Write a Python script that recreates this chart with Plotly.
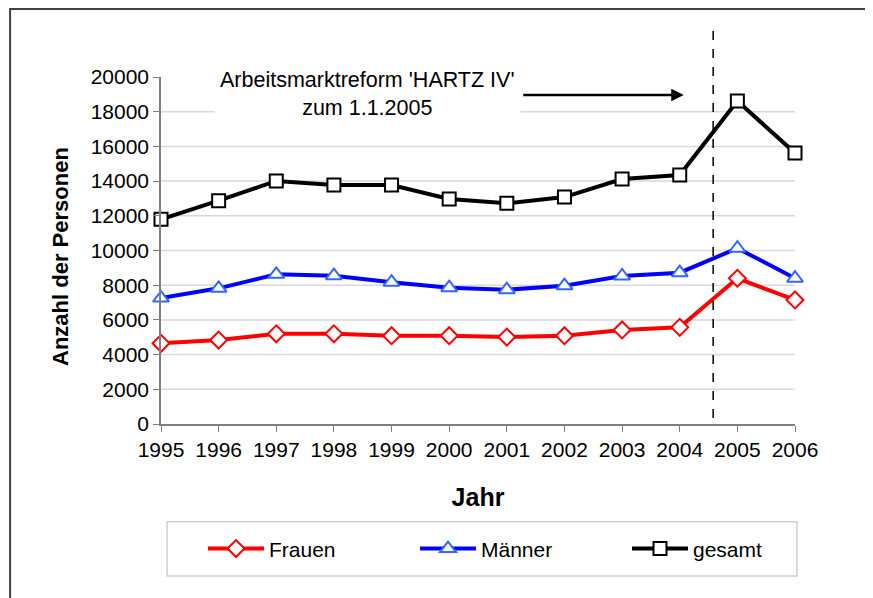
"""Arbeitslose nach Geschlecht 1995-2006 mit Markierung der HARTZ-IV-Reform."""

import plotly.graph_objects as go

YEARS = [1995, 1996, 1997, 1998, 1999, 2000, 2001, 2002, 2003, 2004, 2005, 2006]
FRAUEN = [4650, 4840, 5200, 5200, 5090, 5090, 5010, 5090, 5420, 5570, 8400, 7150]
MAENNER = [7260, 7820, 8630, 8550, 8170, 7860, 7740, 7970, 8530, 8720, 10130, 8400]
GESAMT = [11800, 12870, 14010, 13775, 13775, 12970, 12720, 13080, 14120, 14350, 18620, 15620]

Y_TICKS = [0, 2000, 4000, 6000, 8000, 10000, 12000, 14000, 16000, 18000, 20000]
GRID_LINES = Y_TICKS[1:-1]
REFORM_X = 2004.58

FONT = "Liberation Sans, Arial, sans-serif"

# the page body adds an 8px offset, so the figure is drawn 8px smaller
W, H = 865, 590

fig = go.Figure()

series = [
    ("Frauen", FRAUEN, "#FF0000", "#FF0000", "diamond"),
    ("Männer", MAENNER, "#0000FF", "#3366FF", "triangle-up"),
    ("gesamt", GESAMT, "#000000", "#000000", "square"),
]
for name, vals, line_color, marker_color, symbol in series:
    fig.add_trace(
        go.Scatter(
            x=YEARS,
            y=vals,
            name=name,
            mode="lines+markers",
            line={"color": line_color, "width": 4},
            marker={
                "symbol": symbol,
                "size": 13 if symbol != "triangle-up" else 14,
                "color": "white",
                "line": {"color": marker_color, "width": 2},
            },
            cliponaxis=False,
        )
    )

shapes = [
    # horizontal gridlines
    {
        "type": "line", "xref": "paper", "yref": "y", "x0": 0, "x1": 1,
        "y0": g, "y1": g, "line": {"color": "#d9d9d9", "width": 1.5}, "layer": "below",
    }
    for g in GRID_LINES
]
shapes += [
    # reform marker
    {
        "type": "line", "xref": "x", "yref": "paper", "x0": REFORM_X, "x1": REFORM_X,
        "y0": 0.017, "y1": 1.158, "line": {"color": "black", "width": 1.5, "dash": "dash"},
    },
    # legend frame
    {
        "type": "rect", "xref": "paper", "yref": "paper", "x0": 0.0095, "x1": 1.003,
        "y0": -0.438, "y1": -0.282, "line": {"color": "#d0d0d0", "width": 1.5},
    },
    # chart border
    {
        "type": "rect", "xref": "paper", "yref": "paper", "x0": -0.238, "x1": 1.112,
        "y0": -0.62, "y1": 1.196, "line": {"color": "#404040", "width": 2},
    },
]

annotations = [
    {
        "x": 2004.07, "y": 18960, "xref": "x", "yref": "y",
        "ax": -162, "ay": 0, "text": "", "showarrow": True,
        "arrowhead": 2, "arrowsize": 1, "arrowwidth": 2.5, "arrowcolor": "black",
    },
    {
        "x": (367 - 161) / 634, "y": (424 - 94) / 347, "xref": "paper", "yref": "paper",
        "xanchor": "center", "yanchor": "middle",
        "text": "Arbeitsmarktreform 'HARTZ IV'<br>zum 1.1.2005", "showarrow": False,
        "font": {"size": 21.5, "color": "black", "family": FONT},
        "bgcolor": "white", "borderpad": 5,
    },
    # y axis title
    {
        "x": (60 - 161) / 634, "y": (424 - 257) / 347, "xref": "paper", "yref": "paper",
        "xanchor": "center", "yanchor": "middle", "textangle": -90,
        "text": "<b>Anzahl der Personen</b>", "showarrow": False,
        "font": {"size": 22, "color": "black", "family": FONT},
    },
]

fig.update_layout(
    width=W,
    height=H,
    margin={"l": 153, "r": 78, "t": 69, "b": 174, "autoexpand": False},
    paper_bgcolor="white",
    plot_bgcolor="white",
    font={"family": FONT, "size": 21, "color": "black"},
    showlegend=True,
    legend={
        "orientation": "h",
        "xref": "container",
        "x": 195 / W, "xanchor": "left",
        "y": -0.36, "yanchor": "middle",
        "entrywidth": 141,
        "itemwidth": 56,
        "bgcolor": "rgba(0,0,0,0)",
        "font": {"size": 21},
    },
    shapes=shapes,
    annotations=annotations,
    xaxis={
        "range": [1995, 2006],
        "tickmode": "array",
        "tickvals": YEARS,
        "showgrid": False,
        "zeroline": False,
        "showline": True,
        "linecolor": "#808080",
        "linewidth": 1.5,
        "ticks": "outside",
        "ticklen": 6,
        "tickcolor": "#808080",
        "title": {"text": "<b>Jahr</b>", "standoff": 29},
    },
    yaxis={
        "range": [0, 20000],
        "tickmode": "array",
        "tickvals": Y_TICKS,
        "tickformat": "d",
        "showgrid": False,
        "zeroline": False,
        "showline": True,
        "linecolor": "#808080",
        "linewidth": 1.5,
        "ticks": "outside",
        "ticklen": 6,
        "tickcolor": "#808080",
    },
)

fig.write_html("out.html")
